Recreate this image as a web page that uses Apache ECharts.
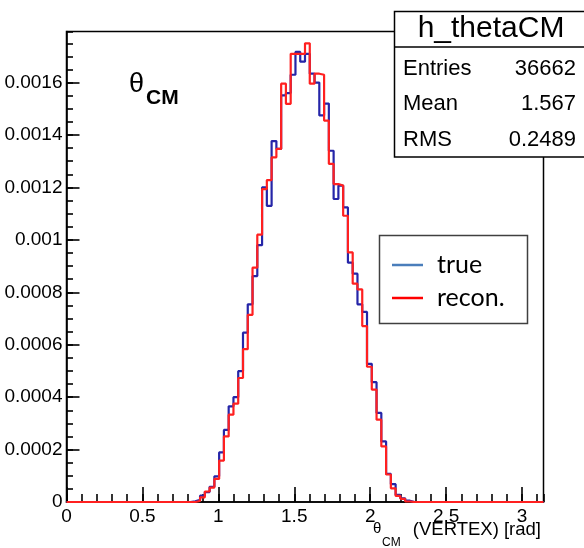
<!DOCTYPE html>
<html>
<head>
<meta charset="utf-8">
<script src="https://cdn.jsdelivr.net/npm/echarts@6/dist/echarts.min.js"></script>
<style>
html,body{margin:0;padding:0;background:#fff}
#chart{width:584px;height:548px}
</style>
</head>
<body>
<div id="chart"></div>
<script>
// histogram h_thetaCM, 100 bins from 0 to pi
const nBins = 100;
const xMax = Math.PI;
const yMax = 0.001795;
const firstBin = 26; // bins before this one are empty
const trueVals = [
  0.000003, 0.000008, 0.000024, 0.000038, 0.000058, 0.000098, 0.000189, 0.000275,
  0.000365, 0.0004, 0.000499, 0.000646, 0.000754, 0.000862, 0.00098, 0.0012,
  0.00113, 0.001377, 0.001347, 0.001551, 0.00156, 0.00163, 0.001717, 0.00168,
  0.00171, 0.001634, 0.0016, 0.001475, 0.00152, 0.00134, 0.001156, 0.001207,
  0.001124, 0.000913, 0.000871, 0.000754, 0.000725, 0.000527, 0.000457, 0.00034,
  0.000231, 0.000107, 0.000068, 0.000027, 0.000014, 0.000005
];
const reconVals = [
  0, 0.000004, 0.000018, 0.00004, 0.000055, 0.000088, 0.000158, 0.00025,
  0.000333, 0.000375, 0.000473, 0.000583, 0.000714, 0.000894, 0.00102, 0.001194,
  0.001228, 0.001315, 0.001347, 0.001596, 0.001519, 0.00171, 0.00171, 0.00171,
  0.00175, 0.001596, 0.001634, 0.00163, 0.001455, 0.00129, 0.001213, 0.001207,
  0.001092, 0.000952, 0.000833, 0.000811, 0.000671, 0.000516, 0.000429, 0.000314,
  0.000212, 0.000105, 0.000052, 0.000023, 0.000012, 0.000002
];
const legendNames = ['true', 'recon.'];
const statsRows = [['Entries', '36662'], ['Mean', '1.567'], ['RMS', '0.2489']];

function histPoints(vals) {
  const w = xMax / nBins;
  const pts = [];
  for (let i = 0; i < nBins; i++) {
    const k = i - firstBin;
    pts.push([i * w, (k >= 0 && k < vals.length) ? vals[k] : 0]);
  }
  pts.push([xMax, pts[nBins - 1][1]]);
  return pts;
}

const FONT = 'Liberation Sans';
const tickStyle = { color: '#000', width: 1.6 };

const chart = echarts.init(document.getElementById('chart'));

const graphics = [
  // stats box
  { type: 'rect', z: 100, shape: { x: 394.5, y: 11.5, width: 200, height: 145.5 },
    style: { fill: '#fff', stroke: '#000', lineWidth: 1.5 } },
  { type: 'line', z: 101, shape: { x1: 394.5, y1: 47, x2: 584, y2: 47 },
    style: { stroke: '#000', lineWidth: 1.5 } },
  { type: 'text', z: 101, style: { text: 'h_thetaCM', x: 491, y: 29, font: '30px "' + FONT + '"',
    fill: '#000', textAlign: 'center', align: 'center', textVerticalAlign: 'middle', verticalAlign: 'middle' } },
  // legend box
  { type: 'rect', z: 100, shape: { x: 379.5, y: 235.5, width: 148, height: 88 },
    style: { fill: '#fff', stroke: '#404040', lineWidth: 1.5 } },
  { type: 'line', z: 101, shape: { x1: 392, y1: 265, x2: 423, y2: 265 },
    style: { stroke: '#4a7ebb', lineWidth: 2.5 } },
  { type: 'line', z: 101, shape: { x1: 392, y1: 298, x2: 423, y2: 298 },
    style: { stroke: '#ff0000', lineWidth: 2.5 } },
  // theta_CM label inside the pad
  { type: 'text', z: 101, style: { text: 'θ', x: 129, y: 85, font: '27px "' + FONT + '"', fill: '#000',
    textVerticalAlign: 'middle', verticalAlign: 'middle' } },
  { type: 'text', z: 101, style: { text: 'CM', x: 146, y: 98, font: 'bold 21px "' + FONT + '"', fill: '#000',
    textVerticalAlign: 'middle', verticalAlign: 'middle' } },
  // x axis title
  { type: 'text', z: 101, style: { text: 'θ', x: 373, y: 529, font: '15px "' + FONT + '"', fill: '#000',
    textVerticalAlign: 'middle', verticalAlign: 'middle' } },
  { type: 'text', z: 101, style: { text: 'CM', x: 382, y: 543, font: '12px "' + FONT + '"', fill: '#000',
    textVerticalAlign: 'middle', verticalAlign: 'middle' } },
  { type: 'text', z: 101, style: { text: '(VERTEX) [rad]', x: 541, y: 530, font: '18.5px "' + FONT + '"', fill: '#000',
    textAlign: 'right', align: 'right', textVerticalAlign: 'middle', verticalAlign: 'middle' } }
];

legendNames.forEach((n, i) => {
  graphics.push({ type: 'text', z: 101, style: { text: n, x: 437, y: 265 + i * 33, font: '25px Lato', fill: '#000',
    textVerticalAlign: 'middle', verticalAlign: 'middle' } });
});
statsRows.forEach((r, i) => {
  const y = [69, 104, 140][i];
  graphics.push({ type: 'text', z: 101, style: { text: r[0], x: 403, y: y, font: '22px "' + FONT + '"', fill: '#000',
    textVerticalAlign: 'middle', verticalAlign: 'middle' } });
  graphics.push({ type: 'text', z: 101, style: { text: r[1], x: 576, y: y, font: '22px "' + FONT + '"', fill: '#000',
    textAlign: 'right', align: 'right', textVerticalAlign: 'middle', verticalAlign: 'middle' } });
});

const option = {
  animation: false,
  grid: {
    left: 66.5, right: 40.5, top: 31.5, bottom: 46,
    show: true, borderColor: '#000', borderWidth: 1.5,
    outerBoundsMode: 'none'
  },
  xAxis: [
    {
      type: 'value', min: 0, max: xMax, interval: 0.5, position: 'bottom',
      axisLine: { lineStyle: tickStyle },
      axisTick: { inside: true, length: 15, lineStyle: tickStyle },
      axisLabel: { margin: 5, showMaxLabel: false, color: '#000', fontFamily: FONT, fontSize: 19 },
      splitLine: { show: false }
    },
    {
      type: 'value', min: 0, max: xMax, interval: 0.1, position: 'bottom',
      axisLine: { show: false },
      axisTick: { inside: true, length: 8, lineStyle: tickStyle },
      axisLabel: { show: false },
      splitLine: { show: false }
    }
  ],
  yAxis: [
    {
      type: 'value', min: 0, max: yMax, interval: 0.0002, position: 'left',
      axisLine: { show: true, lineStyle: tickStyle },
      axisTick: { show: true, inside: true, length: 13, lineStyle: tickStyle },
      axisLabel: { margin: 4, showMaxLabel: false, color: '#000', fontFamily: FONT, fontSize: 19 },
      splitLine: { show: false }
    },
    {
      type: 'value', min: 0, max: yMax, interval: 0.00005, position: 'left',
      axisLine: { show: false },
      axisTick: { show: true, inside: true, length: 6.5, lineStyle: tickStyle },
      axisLabel: { show: false },
      splitLine: { show: false }
    }
  ],
  series: [
    {
      name: legendNames[0], type: 'line', step: 'end', symbol: 'none',
      xAxisIndex: 0, yAxisIndex: 0, z: 3,
      data: histPoints(trueVals),
      lineStyle: { color: '#2525a8', width: 2.2 }, itemStyle: { color: '#2525a8' }
    },
    {
      name: legendNames[1], type: 'line', step: 'end', symbol: 'none',
      xAxisIndex: 0, yAxisIndex: 0, z: 4,
      data: histPoints(reconVals),
      lineStyle: { color: '#ff2020', width: 2.2 }, itemStyle: { color: '#ff2020' }
    }
  ],
  graphic: { elements: graphics }
};

chart.setOption(option);
</script>
</body>
</html>
